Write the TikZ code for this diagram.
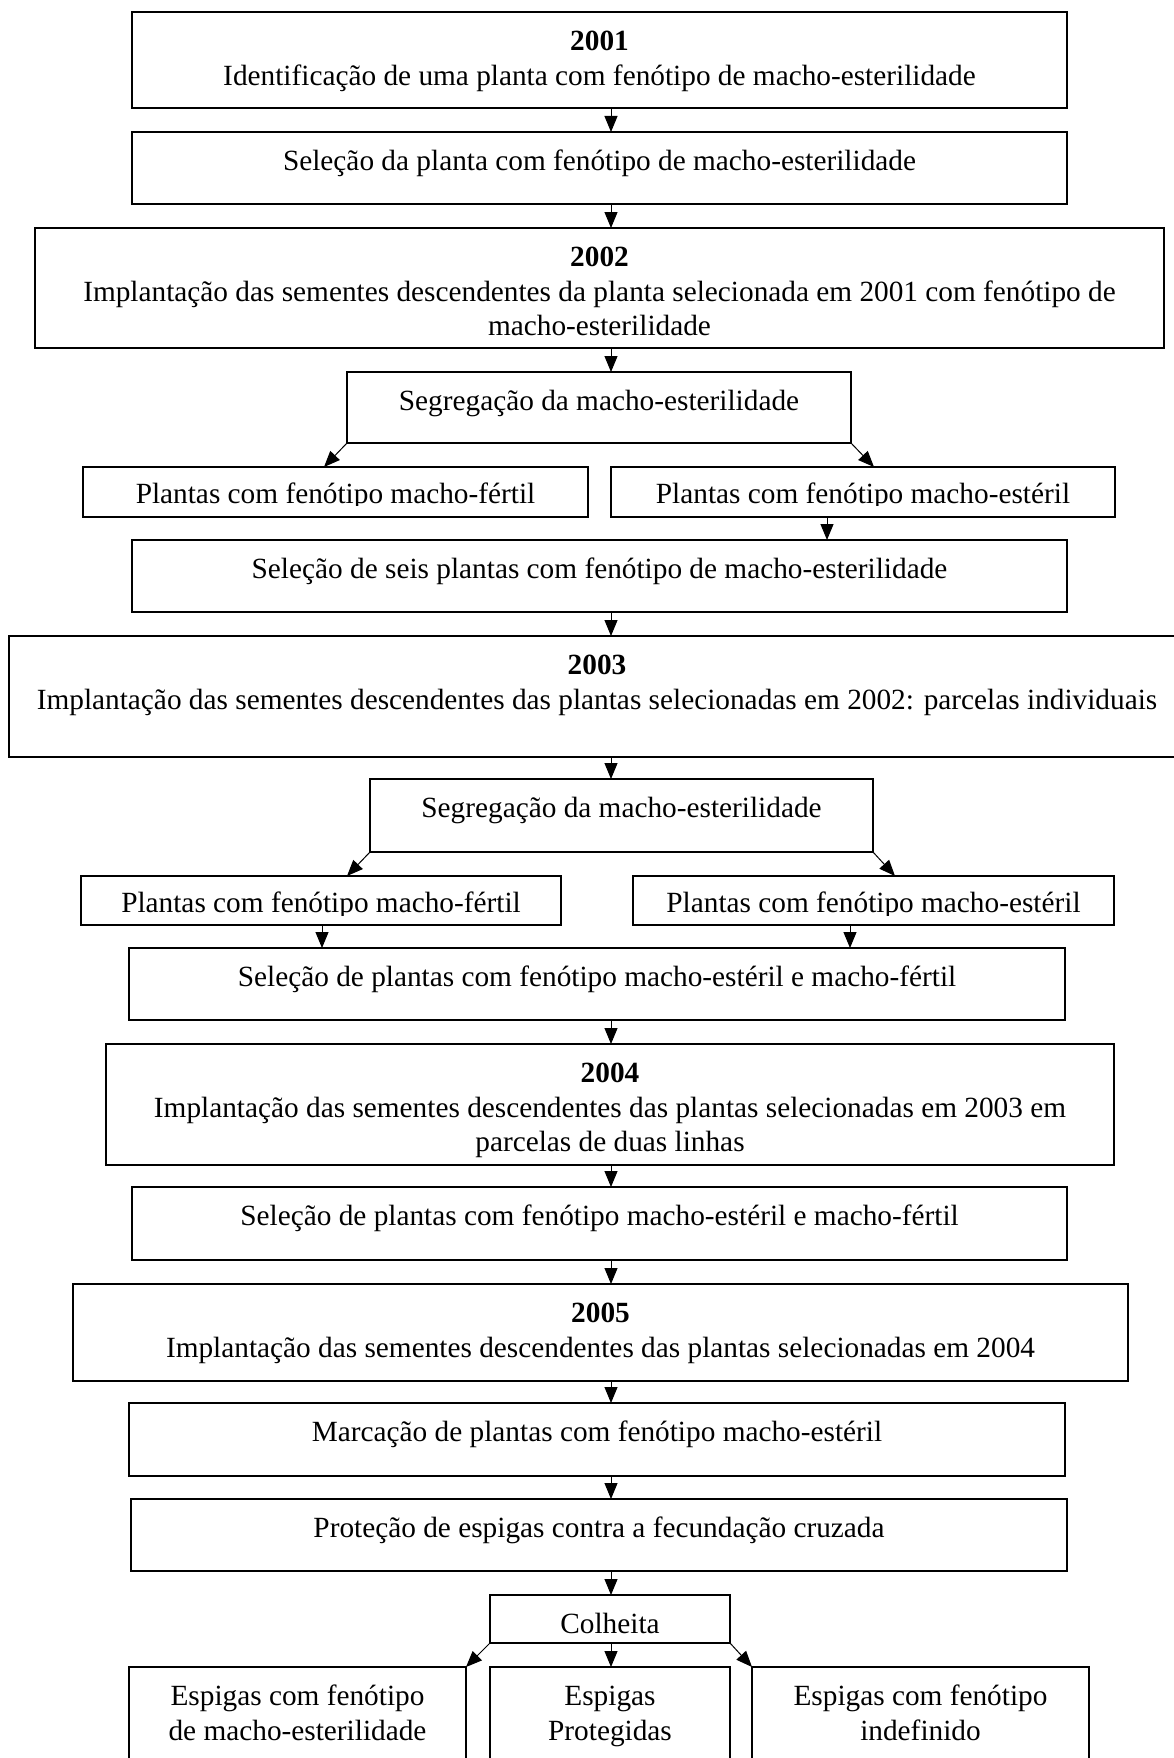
\documentclass[tikz,border=0pt]{standalone}
\usepackage{fontspec}
\setmainfont{Liberation Serif}
\usetikzlibrary{arrows.meta}
\newcommand\fs{\fontsize{29.3}{34.5}\selectfont}
\tikzset{
  box/.style={draw, line width=1.5pt, inner sep=0pt, outer sep=0pt},
  txt/.style={inner sep=0pt, outer sep=0pt, align=center, anchor=north, font=\fs},
  arr/.style={line width=1pt, -{Triangle[length=16pt,width=13pt]}}
}
\newcommand\mkbox[5]{\node[box, minimum width={(#4)-(#2)}, minimum height={(#5)-(#3)}] (#1) at ({((#2)+(#4))/2},{((#3)+(#5))/2}) {};}
\newcommand\tx[3]{\node[txt] (#1) at ([yshift=-14.5pt]#2.north) {#3};}
\newcommand\txp[3]{\node[txt] (#1) at ([yshift=-12pt]#2.north) {#3};}
\begin{document}
\begin{tikzpicture}[x=1pt,y=-1pt]
\fill[white] (0,0) rectangle (1174,1758);
\clip (0,0) rectangle (1174,1758);
% boxes
\mkbox{b1}{132}{12}{1067}{108}
\mkbox{b2}{132}{132}{1067}{204}
\mkbox{b3}{35}{228}{1164}{348}
\mkbox{s1}{347}{372}{851}{443}
\mkbox{pa}{83}{467}{588}{517}
\mkbox{pb}{611}{467}{1115}{517}
\mkbox{b4}{132}{540}{1067}{612}
\mkbox{b5}{9}{636}{1185}{757}
\mkbox{s2}{370}{779}{873}{852}
\mkbox{pc}{81}{876}{561}{925}
\mkbox{pd}{633}{876}{1114}{925}
\mkbox{b6}{129}{948}{1065}{1020}
\mkbox{b7}{106}{1044}{1114}{1165}
\mkbox{b8}{132}{1187}{1067}{1260}
\mkbox{b9}{73}{1284}{1128}{1381}
\mkbox{b10}{129}{1403}{1065}{1476}
\mkbox{b11}{131}{1499}{1067}{1571}
\mkbox{col}{490}{1595}{730}{1643}
\mkbox{e1}{129}{1667}{466}{1800}
\mkbox{e2}{490}{1667}{730}{1800}
\mkbox{e3}{752}{1667}{1089}{1800}
% texts
\tx{t1}{b1}{\strut\textbf{2001}\\\strut Identificação de uma planta com fenótipo de macho-esterilidade}
\tx{t2}{b2}{\strut Seleção da planta com fenótipo de macho-esterilidade}
\tx{t3}{b3}{\strut\textbf{2002}\\\strut Implantação das sementes descendentes da planta selecionada em 2001 com fenótipo de\\\strut macho-esterilidade}
\tx{t4}{s1}{\strut Segregação da macho-esterilidade}
\begin{scope}
\clip (0,467) rectangle (1174,505);
\txp{t5}{pa}{\strut Plantas com fenótipo macho-fértil}
\txp{t6}{pb}{\strut Plantas com fenótipo macho-estéril}
\end{scope}
\tx{t7}{b4}{\strut Seleção de seis plantas com fenótipo de macho-esterilidade}
\tx{t8}{b5}{\strut\textbf{2003}\\\strut Implantação das sementes descendentes das plantas selecionadas em 2002: parcelas individuais}
\tx{t9}{s2}{\strut Segregação da macho-esterilidade}
\begin{scope}
\clip (0,876) rectangle (1174,915);
\txp{t10}{pc}{\strut Plantas com fenótipo macho-fértil}
\txp{t11}{pd}{\strut Plantas com fenótipo macho-estéril}
\end{scope}
\tx{t12}{b6}{\strut Seleção de plantas com fenótipo macho-estéril e macho-fértil}
\tx{t13}{b7}{\strut\textbf{2004}\\\strut Implantação das sementes descendentes das plantas selecionadas em 2003 em\\\strut parcelas de duas linhas}
\tx{t14}{b8}{\strut Seleção de plantas com fenótipo macho-estéril e macho-fértil}
\tx{t15}{b9}{\strut\textbf{2005}\\\strut Implantação das sementes descendentes das plantas selecionadas em 2004}
\tx{t16}{b10}{\strut Marcação de plantas com fenótipo macho-estéril}
\tx{t17}{b11}{\strut Proteção de espigas contra a fecundação cruzada}
\tx{t18}{col}{\strut Colheita}
\tx{t19}{e1}{\strut Espigas com fenótipo\\\strut de macho-esterilidade}
\tx{t20}{e2}{\strut Espigas\\\strut Protegidas}
\tx{t21}{e3}{\strut Espigas com fenótipo\\\strut indefinido}
% connector x positions
\coordinate (xm) at (611,0);
\coordinate (xpb) at (827,0);
\coordinate (xpc) at (322,0);
\coordinate (xpd) at (850,0);
\coordinate (xla) at (324,0);
\coordinate (xra) at (874,0);
\coordinate (xlb) at (347,0);
\coordinate (xrb) at (895,0);
% arrows
\draw[arr] (b1.south -| xm) -- (b2.north -| xm);
\draw[arr] (b2.south -| xm) -- (b3.north -| xm);
\draw[arr] (b3.south -| xm) -- (s1.north -| xm);
\draw[arr] (s1.south west) -- (pa.north -| xla);
\draw[arr] (s1.south east) -- (pb.north -| xra);
\draw[arr] (pb.south -| xpb) -- (b4.north -| xpb);
\draw[arr] (b4.south -| xm) -- (b5.north -| xm);
\draw[arr] (b5.south -| xm) -- (s2.north -| xm);
\draw[arr] (s2.south west) -- (pc.north -| xlb);
\draw[arr] (s2.south east) -- (pd.north -| xrb);
\draw[arr] (pc.south -| xpc) -- (b6.north -| xpc);
\draw[arr] (pd.south -| xpd) -- (b6.north -| xpd);
\draw[arr] (b6.south -| xm) -- (b7.north -| xm);
\draw[arr] (b7.south -| xm) -- (b8.north -| xm);
\draw[arr] (b8.south -| xm) -- (b9.north -| xm);
\draw[arr] (b9.south -| xm) -- (b10.north -| xm);
\draw[arr] (b10.south -| xm) -- (b11.north -| xm);
\draw[arr] (b11.south -| xm) -- (col.north -| xm);
\draw[arr] (col.south west) -- (e1.north east);
\draw[arr] (col.south -| xm) -- (e2.north -| xm);
\draw[arr] (col.south east) -- (e3.north west);
\end{tikzpicture}
\end{document}
